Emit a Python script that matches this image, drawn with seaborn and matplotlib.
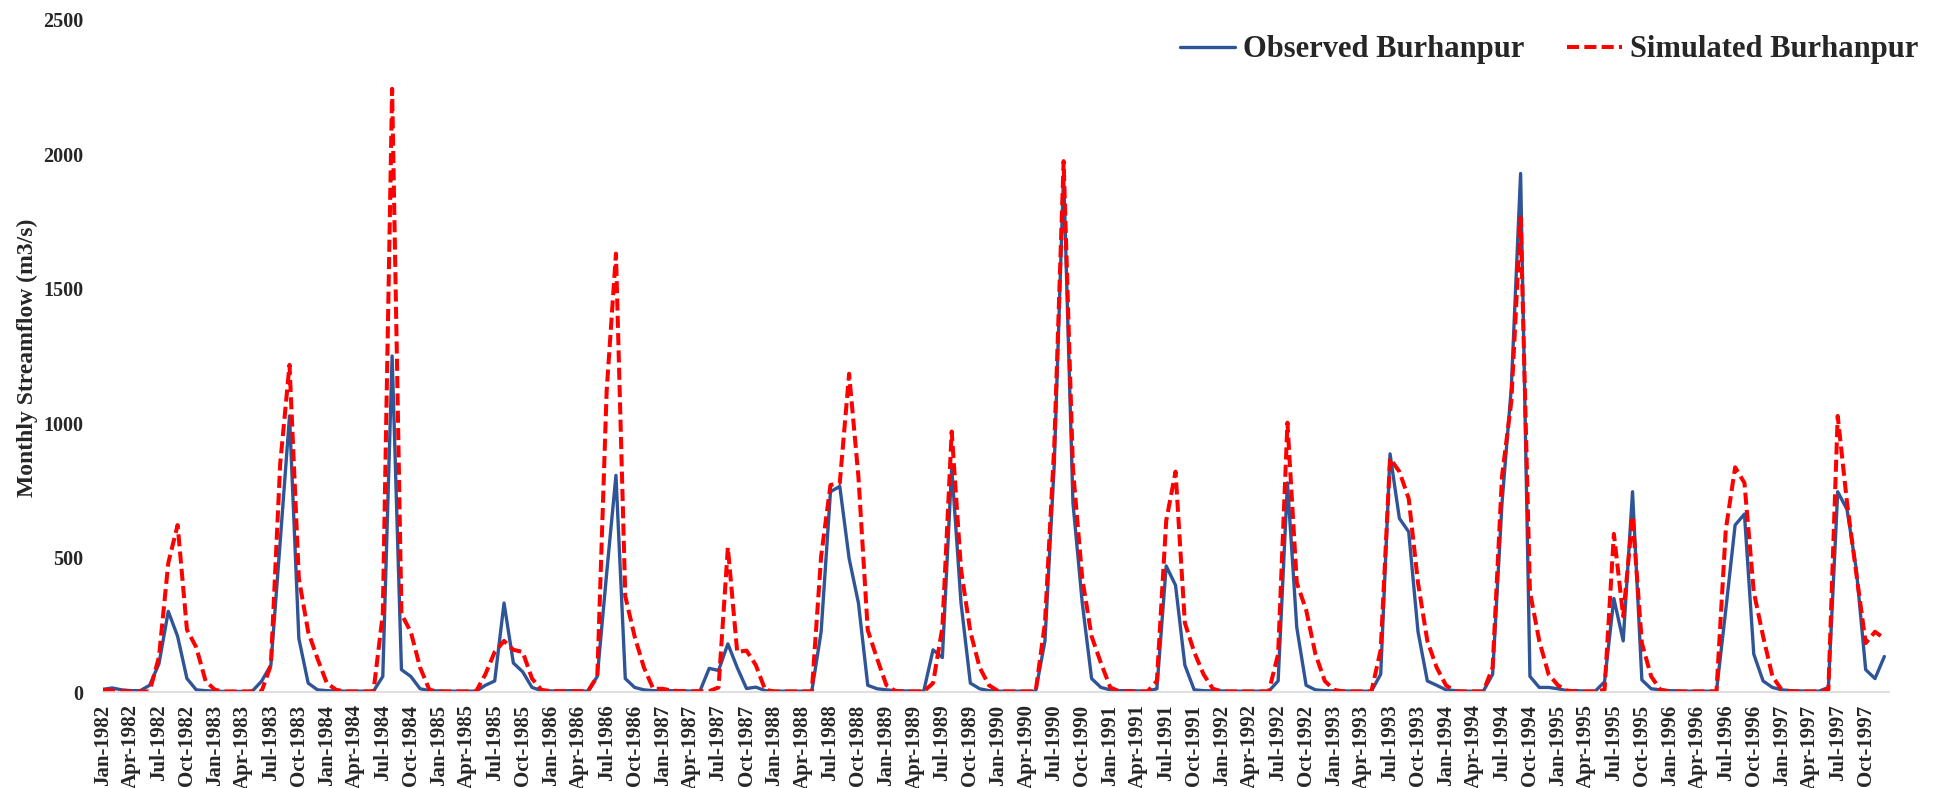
import numpy as np
import pandas as pd
import seaborn as sns
import matplotlib.pyplot as plt

# monthly streamflow, Jan-1982 .. Dec-1997 (one row per year)
observed = [
    10, 15, 8, 5, 5, 25, 105, 300, 207, 50, 8, 5,          # 1982
    3, 2, 2, 2, 3, 40, 100, 560, 1027, 199, 33, 8,         # 1983
    5, 4, 3, 3, 3, 3, 58, 1250, 83, 58, 12, 5,             # 1984
    4, 3, 3, 3, 3, 25, 41, 331, 108, 75, 17, 5,            # 1985
    4, 3, 5, 4, 3, 58, 440, 806, 50, 17, 8, 5,             # 1986
    5, 5, 5, 3, 3, 88, 80, 179, 91, 13, 18, 5,             # 1987
    3, 3, 3, 3, 3, 224, 745, 765, 497, 331, 25, 12,        # 1988
    8, 5, 4, 3, 3, 157, 128, 836, 331, 33, 12, 5,          # 1989
    3, 3, 3, 3, 3, 190, 850, 1930, 704, 331, 50, 17,       # 1990
    8, 5, 5, 4, 3, 12, 469, 397, 100, 8, 5, 4,             # 1991
    4, 3, 3, 3, 3, 3, 41, 778, 240, 25, 8, 5,              # 1992
    4, 4, 3, 3, 3, 66, 886, 646, 596, 224, 41, 25,         # 1993
    8, 5, 3, 3, 3, 66, 700, 1130, 1929, 58, 17, 17,        # 1994
    12, 5, 5, 3, 3, 38, 348, 190, 745, 45, 12, 8,          # 1995
    5, 4, 3, 3, 3, 3, 306, 621, 662, 141, 41, 17,          # 1996
    8, 5, 4, 3, 3, 17, 745, 679, 455, 83, 50, 132,         # 1997
]
simulated = [
    8, 5, 3, 2, 2, 2, 130, 480, 621, 232, 166, 41,         # 1982
    8, 2, 2, 2, 2, 2, 100, 850, 1217, 422, 224, 124,       # 1983
    33, 8, 2, 2, 2, 2, 290, 2244, 290, 224, 91, 8,         # 1984
    2, 2, 2, 2, 2, 66, 149, 190, 157, 149, 50, 8,          # 1985
    3, 3, 3, 3, 3, 58, 1118, 1631, 356, 207, 91, 12,       # 1986
    12, 5, 3, 3, 3, 3, 17, 538, 149, 154, 100, 8,          # 1987
    2, 2, 2, 2, 2, 505, 770, 778, 1184, 800, 230, 124,     # 1988
    25, 3, 2, 2, 2, 33, 240, 969, 455, 224, 91, 25,        # 1989
    3, 2, 2, 2, 2, 257, 919, 1975, 830, 422, 207, 108,     # 1990
    17, 2, 2, 2, 2, 41, 637, 820, 257, 149, 66, 12,        # 1991
    2, 2, 2, 2, 2, 2, 141, 1002, 406, 306, 141, 41,        # 1992
    8, 2, 2, 2, 2, 157, 869, 820, 720, 406, 190, 91,       # 1993
    25, 2, 2, 2, 2, 91, 800, 1080, 1764, 373, 190, 66,     # 1994
    25, 5, 2, 2, 2, 8, 588, 282, 654, 182, 58, 8,          # 1995
    2, 2, 2, 2, 2, 2, 604, 836, 778, 373, 207, 58,         # 1996
    8, 2, 2, 2, 2, 8, 1027, 704, 439, 182, 224, 199,       # 1997
]
month_names = ['Jan', 'Feb', 'Mar', 'Apr', 'May', 'Jun',
               'Jul', 'Aug', 'Sep', 'Oct', 'Nov', 'Dec']
years = list(range(1982, 1998))

month_labels = [f"{m}-{y}" for y in years for m in month_names]
df = pd.DataFrame({
    'idx': np.arange(len(month_labels)),
    'Observed': observed,
    'Simulated': simulated,
})

sns.set_style("white")
plt.rcParams['font.family'] = ['Liberation Serif', 'DejaVu Serif']
plt.rcParams['font.weight'] = 'bold'

fig = plt.figure(figsize=(19.42, 7.88), dpi=100)
ax = fig.add_axes([103 / 1942, 1 - 692 / 788, 1786 / 1942, 672 / 788])

sns.lineplot(data=df, x='idx', y='Observed', ax=ax, color='#2f5597',
             linewidth=2.4, label='Observed Burhanpur')
sns.lineplot(data=df, x='idx', y='Simulated', ax=ax, color='#ff0000',
             linewidth=2.9, label='Simulated Burhanpur')
ax.lines[0].set_solid_joinstyle('round')
ax.lines[1].set_dashes((3, 1.3))

ax.set_xlim(0, len(month_labels) - 0.5)
ax.set_ylim(0, 2500)
ax.set_yticks(range(0, 2501, 500))
ax.set_yticklabels([str(v) for v in range(0, 2501, 500)], fontsize=14.5, fontweight='bold')
ax.set_xticks(df['idx'][::3])
ax.set_xticklabels(month_labels[::3], rotation=90, fontsize=15, fontweight='bold')
ax.tick_params(axis='both', length=0)
ax.tick_params(axis='y', pad=14)
ax.tick_params(axis='x', pad=9)

for side in ['top', 'right', 'left']:
    ax.spines[side].set_visible(False)
ax.spines['bottom'].set_color('#d9d9d9')
ax.spines['bottom'].set_linewidth(1.2)

ax.set_xlabel('')
ax.set_ylabel('')
fig.text(27 / 1942, 1 - 358 / 788, 'Monthly Streamflow (m3/s)', rotation=90,
         ha='center', va='center', fontsize=17, fontweight='bold')

handles, labels = ax.get_legend_handles_labels()
ax.get_legend().remove()
fig.legend(handles, labels, loc='center right', bbox_to_anchor=(1918 / 1942, 1 - 50 / 788),
           ncol=2, frameon=False, borderpad=0, borderaxespad=0,
           handlelength=1.8, handletextpad=0.25, columnspacing=1.4,
           prop={'family': 'Liberation Serif', 'weight': 'bold', 'size': 22})

fig.savefig('out.png', dpi=100)
